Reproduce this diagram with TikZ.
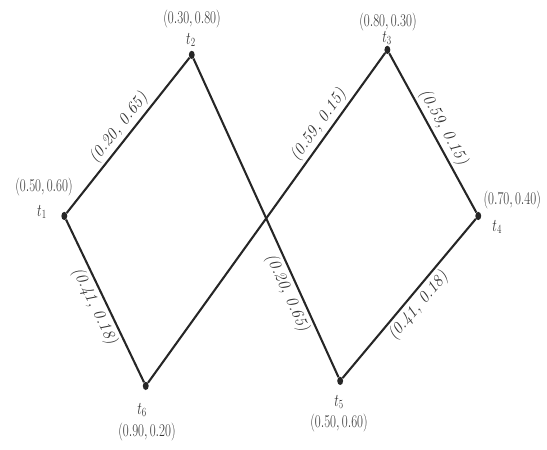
\documentclass[tikz,border=0pt]{standalone}
\usepackage{tikz}
\usepackage{graphicx}
\usetikzlibrary{positioning,shapes.geometric}

% texto vertical estirado, como en la figura original
\newcommand{\angosto}[1]{\scalebox{0.72}[1]{#1}}

\begin{document}
\begin{tikzpicture}[
  punto/.style={ellipse, fill=black!85, inner sep=0pt, minimum width=0.2cm, minimum height=0.28cm},
  etiq/.style={text=black!80, inner sep=1pt, font=\fontsize{18}{20}\selectfont},
  arista/.style={line width=2pt, black!85},
  peso/.style={sloped, text=black!80, inner sep=2.5pt, font=\fontsize{16}{18}\selectfont\itshape}
]
\useasboundingbox (0,0) rectangle (18.54,15.22);

%% ===== vertices =====
\node[punto] (t1) at (2.18,7.90) {};
\node[punto] (t2) at (6.50,13.36) {};
\node[punto] (t3) at (13.13,13.53) {};
\node[punto] (t4) at (16.21,7.90) {};
\node[punto] (t5) at (11.53,2.31) {};
\node[punto] (t6) at (4.94,2.14) {};

%% ===== nombres y coordenadas =====
\node[etiq] (n1) at (1.42,8.03) {\angosto{$t_1$}};
\node[etiq] at (1.49,8.88) {\angosto{$(0.50,0.60)$}};
\node[etiq] (n2) at (6.47,13.86) {\angosto{$t_2$}};
\node[etiq] at (6.51,14.58) {\angosto{$(0.30,0.80)$}};
\node[etiq] (n3) at (13.12,13.93) {\angosto{$t_3$}};
\node[etiq] at (13.15,14.47) {\angosto{$(0.80,0.30)$}};
\node[etiq] (n4) at (16.85,7.53) {\angosto{$t_4$}};
\node[etiq] at (17.36,8.44) {\angosto{$(0.70,0.40)$}};
\node[etiq] (n5) at (11.49,1.59) {\angosto{$t_5$}};
\node[etiq] at (11.49,0.88) {\angosto{$(0.50,0.60)$}};
\node[etiq] (n6) at (4.81,1.32) {\angosto{$t_6$}};
\node[etiq] at (4.98,0.58) {\angosto{$(0.90,0.20)$}};

%% ===== aristas =====
\draw[arista] (t1) -- (t2) node[peso, midway, above] {(0.20, 0.65)};
\draw[arista] (t1) -- (t6) node[peso, midway, below] {(0.41, 0.18)};
\draw[arista] (t6) -- (t3) node[peso, pos=0.76, above] {(0.59, 0.15)};
\draw[arista] (t2) -- (t5) node[peso, pos=0.72, below] {(0.20, 0.65)};
\draw[arista] (t3) -- (t4) node[peso, midway, above] {(0.59, 0.15)};
\draw[arista] (t5) -- (t4) node[peso, midway, below] {(0.41, 0.18)};
\end{tikzpicture}
\end{document}
